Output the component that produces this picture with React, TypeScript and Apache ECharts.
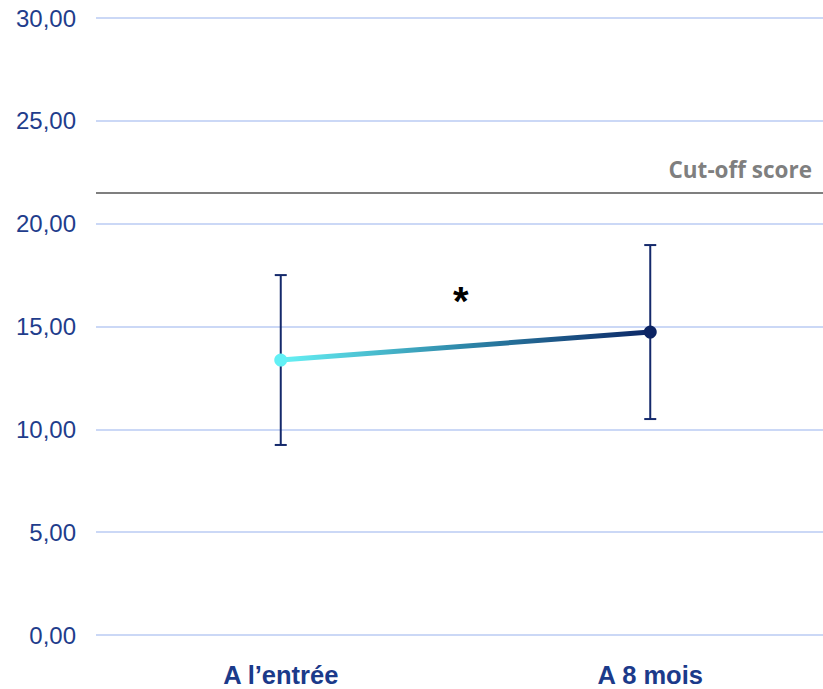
import React, { useEffect, useRef } from "react";
import * as echarts from "echarts";

const categories = ["A l\u2019entrée", "A 8 mois"];
const means = [13.37, 14.73];
const errHigh = [17.5, 18.96];
const errLow = [9.24, 10.5];
const cutoff = 21.5;
const yTicks = { min: 0, max: 30, interval: 5 };

export default function App() {
  const ref = useRef<HTMLDivElement>(null);
  useEffect(() => {
    const chart = echarts.init(ref.current!, null, { renderer: "svg" });
    const navy = "#14296b";
    chart.setOption({
      animation: false,
      grid: {
        left: 96,
        top: 18,
        right: -12,
        bottom: 54,
        containLabel: false,
        outerBoundsMode: "none",
      },
      xAxis: {
        type: "category",
        data: categories,
        boundaryGap: true,
        axisLine: { show: false },
        axisTick: { show: false },
        axisLabel: {
          color: "#1b3a8a",
          fontFamily: "Liberation Sans, Arial, sans-serif",
          fontWeight: "bold",
          fontSize: 25.5,
          lineHeight: 24,
          margin: 28,
        },
      },
      yAxis: {
        type: "value",
        min: yTicks.min,
        max: yTicks.max,
        interval: yTicks.interval,
        axisLine: { show: false },
        axisTick: { show: false },
        splitLine: { lineStyle: { color: "#cbd8f6", width: 2 } },
        axisLabel: {
          color: "#1f3d8c",
          fontFamily: "Liberation Sans, Arial, sans-serif",
          fontSize: 24,
          margin: 20,
          formatter: (v: number) => v.toFixed(2).replace(".", ","),
        },
      },
      series: [
        {
          type: "custom",
          z: 1,
          data: categories.map((_, i) => [i, errHigh[i], errLow[i]]),
          encode: { x: 0, y: [1, 2] },
          renderItem: (params: any, api: any) => {
            const hi = api.coord([api.value(0), api.value(1)]);
            const lo = api.coord([api.value(0), api.value(2)]);
            const style = { stroke: navy, lineWidth: 2 };
            const hw = 6;
            return {
              type: "group",
              children: [
                { type: "line", shape: { x1: hi[0], y1: hi[1], x2: lo[0], y2: lo[1] }, style },
                { type: "line", shape: { x1: hi[0] - hw, y1: hi[1], x2: hi[0] + hw, y2: hi[1] }, style },
                { type: "line", shape: { x1: lo[0] - hw, y1: lo[1], x2: lo[0] + hw, y2: lo[1] }, style },
              ],
            };
          },
        },
        {
          type: "line",
          z: 3,
          data: [
            { value: means[0], itemStyle: { color: "#62f0f5" } },
            { value: means[1], itemStyle: { color: "#0c2463" } },
          ],
          symbol: "circle",
          symbolSize: 13,
          lineStyle: {
            width: 5,
            color: new echarts.graphic.LinearGradient(0, 0, 1, 0, [
              { offset: 0, color: "#66f2f5" },
              { offset: 0.5, color: "#2d86a8" },
              { offset: 1, color: "#0c2666" },
            ]),
          },
          markLine: {
            silent: true,
            symbol: "none",
            label: { show: false },
            lineStyle: { color: "#7f7f7f", width: 2, type: "solid" },
            data: [{ yAxis: cutoff }],
          },
        },
      ],
      graphic: [
        {
          type: "text",
          right: 11,
          top: 158,
          style: {
            text: "Cut-off score",
            fill: "#7f7f7f",
            font: "bold 22.5px 'Open Sans', sans-serif",
          },
        },
        {
          type: "text",
          left: 453,
          top: 281,
          style: {
            text: "*",
            fill: "#000000",
            font: "bold 40px 'Liberation Sans', Arial, sans-serif",
          },
        },
      ],
    });
    return () => chart.dispose();
  }, []);
  return (
    <div
      ref={ref}
      style={{ position: "fixed", left: 0, top: 0, width: 823, height: 689, background: "#fff" }}
    />
  );
}
